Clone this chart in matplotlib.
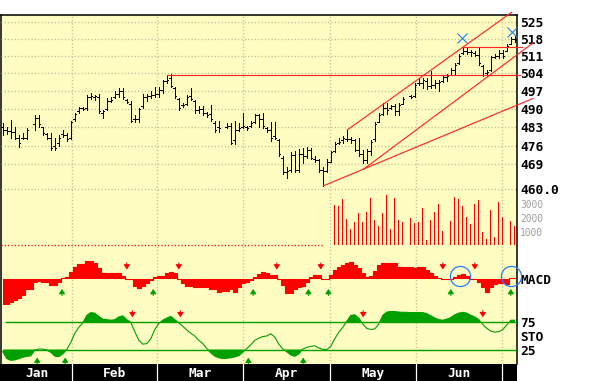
import numpy as np
import matplotlib
matplotlib.use('Agg')
import matplotlib.pyplot as plt
from matplotlib.ticker import NullLocator

nan = np.nan

# ---------------- data (one slot per trading day) ----------------
high = [484.6, 483.0, 485.8, 483.2, 480.1, 480.8, 482.7, nan, 487.7, 487.7,
        483.2, 480.8, 480.8, 478.9, 480.1, 482.0, 480.8, 485.2, 488.4, 490.9,
        490.9, 495.4, 496.1, 495.4, 495.7, 489.7, 494.2, 494.6, 496.8, 498.1,
        498.1, 493.8, 492.9, 487.7, 490.3, 495.8, 495.8, 496.8, 498.7, 498.7,
        501.3, 502.9, 503.9, 498.5, 494.2, 492.3, 495.4, 498.1, 493.5, 491.1,
        491.1, 488.9, 491.6, 485.2, 485.2, nan, 484.6, 484.6, 485.2, 484.6,
        488.4, 483.4, 485.2, 488.0, 488.0, 488.4, 483.2, 484.8, 484.8, 478.5,
        472.0, 468.0, 473.5, 474.1, 474.7, 475.1, 475.3, 475.1, 472.0, 470.8,
        468.0, 470.8, 474.1, 477.3, 478.9, 479.8, 482.0, 479.3, 478.5, 478.9,
        474.3, 474.7, 478.2, 484.8, 488.4, 492.3, 492.3, 491.6, 491.9, 492.3,
        494.8, nan, 495.4, 500.0, 502.0, 502.2, 502.0, 504.9, 501.3, 501.3,
        503.3, 503.6, 506.2, 508.0, 511.6, 514.4, 514.0, 513.3, 512.9, 514.0,
        507.3, 505.3, 510.9, 511.6, 513.3, 513.3, 516.0, 518.8, 519.0]
low = [480.1, 480.5, 479.0, 478.5, 475.6, 478.5, 478.5, nan, 482.0, 483.2,
       480.1, 478.5, 474.5, 474.2, 476.0, 479.4, 477.7, 478.5, 485.2, 488.4,
       489.4, 489.4, 493.8, 493.5, 488.4, 486.4, 489.4, 492.5, 494.2, 494.6,
       493.8, 492.3, 484.8, 484.8, 484.8, 490.3, 493.2, 494.2, 494.6, 494.6,
       496.4, 500.2, 498.5, 494.2, 489.7, 490.9, 491.6, 493.5, 488.6, 488.6,
       487.7, 486.8, 485.2, 481.1, 481.1, nan, 482.7, 476.6, 476.6, 481.5,
       482.7, 482.0, 483.2, 484.5, 483.2, 482.5, 481.1, 477.7, 478.5, 472.0,
       465.3, 464.0, 466.3, 466.1, 466.1, 469.5, 471.3, 470.8, 469.7, 466.3,
       461.1, 466.3, 469.9, 473.5, 476.4, 477.0, 477.7, 477.0, 473.9, 472.2,
       469.5, 469.5, 472.6, 477.7, 484.8, 487.7, 488.1, 490.1, 487.7, 487.7,
       491.9, nan, 494.2, 494.8, 499.3, 498.1, 497.9, 498.1, 498.1, 497.0,
       500.6, 500.8, 503.3, 503.3, 507.6, 511.6, 511.6, 510.8, 510.8, 507.3,
       503.1, 503.1, 505.0, 510.0, 510.0, 510.2, 512.8, 515.7, 516.5]
open_ = [483.0, 482.0, 481.5, 481.0, 479.0, 479.0, 479.0, nan, 484.0, 486.5,
         483.0, 480.5, 479.0, 476.0, 477.0, 480.5, 480.0, 479.0, 486.0, 489.0,
         490.5, 490.5, 494.5, 494.5, 494.5, 488.5, 490.0, 493.0, 494.5, 496.0,
         497.0, 493.5, 492.0, 486.0, 486.0, 491.0, 494.5, 495.0, 495.5, 496.0,
         497.5, 501.0, 502.0, 498.0, 494.0, 491.5, 492.0, 495.0, 493.0, 489.5,
         490.0, 488.5, 488.0, 484.5, 483.0, nan, 483.0, 483.5, 478.0, 482.0,
         483.0, 483.0, 483.5, 485.0, 487.5, 486.0, 482.5, 482.0, 479.5, 478.0,
         471.5, 466.0, 467.0, 472.5, 467.0, 473.0, 472.0, 474.5, 471.0, 470.5,
         467.0, 466.5, 470.0, 474.0, 477.0, 478.0, 478.5, 478.5, 478.0, 474.5,
         473.0, 470.5, 474.0, 478.5, 485.0, 488.0, 490.5, 490.5, 491.0, 489.0,
         492.0, nan, 495.0, 495.0, 500.0, 500.0, 501.0, 499.0, 499.5, 500.0,
         501.0, 502.5, 503.5, 505.5, 508.0, 512.0, 513.0, 512.5, 512.0, 511.5,
         507.0, 504.0, 505.5, 510.5, 511.0, 512.0, 513.0, 516.0, 518.0]
close = [482.0, 481.5, 481.0, 479.0, 477.0, 478.8, 482.0, nan, 486.5, 484.0,
         480.8, 479.0, 475.0, 475.0, 479.0, 480.0, 478.5, 485.0, 488.0, 490.5,
         490.0, 494.5, 495.0, 495.0, 489.0, 489.0, 493.0, 493.5, 496.0, 497.0,
         494.5, 492.5, 485.5, 486.0, 490.0, 494.5, 495.0, 495.5, 496.0, 497.5,
         501.0, 501.5, 499.0, 495.0, 490.5, 491.5, 494.5, 494.0, 489.5, 490.0,
         488.5, 487.5, 486.0, 482.0, 482.5, nan, 483.5, 477.0, 482.0, 482.5,
         483.5, 482.8, 484.5, 487.5, 486.0, 483.5, 482.0, 479.0, 478.8, 473.0,
         466.0, 466.5, 472.5, 467.0, 473.0, 472.0, 474.5, 471.5, 470.5, 467.0,
         466.5, 470.0, 473.5, 476.5, 477.5, 479.0, 478.5, 478.0, 474.5, 473.0,
         470.5, 474.0, 477.5, 484.0, 487.5, 490.5, 489.5, 491.0, 489.0, 491.5,
         494.0, nan, 494.5, 499.5, 500.0, 501.5, 499.0, 499.5, 500.0, 500.5,
         502.5, 503.0, 505.5, 507.5, 511.0, 513.0, 512.5, 512.5, 511.5, 508.0,
         503.5, 504.5, 510.5, 511.0, 512.0, 511.0, 515.0, 518.0, 517.5]

volume_start = 80
volume = [60, 60, 60, 2936, 2864, 3370, 1926, 1204, 1709, 2359,
          1709, 2431, 3442, 1853, 1420, 2359, 3640, 1204, 3442, 1853,
          1709, 50, 1998, 1637, 1709, 2720, 409, 1853, 2431, 3009,
          1059, 50, 1781, 3514, 3370, 2864, 2070, 1565, 3009, 3298,
          987, 481, 2576, 626, 3153, 2070, 50, 1781, 1420]

macd = [-2.53, -2.53, -2.27, -2.10, -1.93, -1.60, -1.03, -1.03, -0.33, -0.17,
        -0.33, -0.33, -0.60, -0.63, -0.33, 0.13, 0.17, 0.67, 1.17, 1.47,
        1.47, 1.80, 1.80, 1.57, 1.07, 0.63, 0.63, 0.63, 0.63, 0.63,
        0.30, -0.03, -0.03, -0.70, -0.93, -0.70, -0.37, -0.10, 0.23, 0.33,
        0.33, 0.57, 0.70, 0.57, -0.03, -0.43, -0.70, -0.70, -0.77, -0.77,
        -0.83, -0.83, -1.03, -1.03, -1.27, -1.17, -1.17, -1.03, -1.27, -0.77,
        -0.37, -0.27, -0.10, 0.23, 0.47, 0.73, 0.57, 0.40, 0.40, 0.00,
        -0.60, -1.43, -1.43, -1.03, -0.83, -0.70, -0.33, 0.23, 0.40, 0.40,
        0.00, 0.00, 0.40, 0.90, 1.23, 1.40, 1.57, 1.70, 1.40, 1.07,
        0.63, 0.17, 0.33, 0.83, 1.40, 1.57, 1.57, 1.63, 1.63, 1.23,
        1.23, 1.17, 1.17, 1.07, 1.17, 1.17, 0.90, 0.63, 0.30, 0.07,
        0.00, 0.00, 0.00, 0.23, 0.40, 0.50, 0.30, 0.00, 0.00, -0.33,
        -0.77, -1.27, -0.83, -0.50, -0.37, -0.43, -0.50, 0.07, 0.10]
macd_sell = [31, 44, 68.5, 79.5, 110, 118]
macd_buy = [14.8, 37.6, 62.6, 76.4, 81.4, 112, 127]

sto = [21, 8.3, 5.3, 6, 8.3, 11, 12.5, 13.5, 24, 26,
       26, 24, 20, 13, 12, 17, 25, 38, 55, 66,
       74, 88, 93, 92, 86, 81, 80, 79, 80, 85,
       87, 80, 75, 58, 42, 35, 36, 45, 62, 73,
       79, 83, 86, 80, 74, 68, 61, 55, 50, 42,
       36, 27, 19, 13, 10, 8.5, 9, 10, 11.5, 14,
       20, 27, 34, 42, 46, 49, 50, 54, 48, 35,
       26, 21, 15, 12.7, 17, 26, 29, 31, 32, 28,
       25.5, 25, 31, 45, 57, 66, 77, 88, 89, 83,
       72, 64, 62, 63, 72, 88, 94, 95, 95, 94,
       93.5, 93.5, 93, 93, 93, 93, 91, 87, 83, 80,
       79, 81, 84, 89, 92, 93.5, 92, 88, 85, 80,
       71, 64, 59, 57, 58, 62, 70, 79, 79]
sto_sell = [32.4, 44.4, 90.1, 120]
sto_buy = [8.6, 15.6, 61.4, 75.1]

price_ticks = [525, 518, 511, 504, 497, 490, 483, 476, 469, 460]
price_labels = ['525', '518', '511', '504', '497', '490', '483', '476', '469', '460.0']
vol_ticks = [1000, 2000, 3000]
months = ['Jan', 'Feb', 'Mar', 'Apr', 'May', 'Jun']
month_bounds = [17.3, 38.55, 60.05, 81.8, 103.3, 124.8]

# drawn studies: (day, price) endpoints
trend_upper = ([86.2, 127.2], [482.0, 528.9])
trend_mid = ([90.1, 132.6], [467.1, 516.3])
trend_low = ([80.2, 132.6], [461.1, 494.1])
resist_1 = ([41.0, 129.3], [503.3, 503.3])
resist_2 = ([114.8, 129.7], [514.5, 514.5])
x_marks = ([114.9, 127.2], [518.3, 520.8])
circles = ([114.4, 127.1], [0.27, 0.32])

# ---------------- styling ----------------
W, H = 595, 381
BG = '#FFFDC2'
GRID = '#BDBC98'
RED = '#FF0000'
GREEN = '#00A000'
BLUE = '#2080FF'
plt.rcParams['font.family'] = ['DejaVu Sans Mono']

fig = plt.figure(figsize=(W / 100, H / 100), dpi=100)
fig.patch.set_facecolor('white')


def ax_px(x0, y0, x1, y1, **kw):
    return fig.add_axes([x0 / W, 1 - y1 / H, (x1 - x0) / W, (y1 - y0) / H], **kw)


def slot(xp):
    return (xp - 2.8) / 4.0


XL = (slot(1), slot(517))
days = np.arange(len(high))


def clean(ax):
    ax.set_xlim(*XL)
    ax.patch.set_alpha(0)
    for s in ax.spines.values():
        s.set_visible(False)
    ax.set_xticks([])
    ax.tick_params(axis='y', length=0, pad=2.2, right=True, left=False,
                   labelright=True, labelleft=False)


# background frame
bg = ax_px(1, 15, 517, 364)
bg.set_facecolor(BG)
bg.set_xlim(*XL)
bg.set_ylim(0, 1)
bg.set_xticks([])
bg.set_yticks([])
for side in ['left', 'top', 'right']:
    bg.spines[side].set_linewidth(1.1)
    bg.spines[side].set_color('black')
bg.spines['bottom'].set_visible(False)
for b in month_bounds:
    bg.axvline(b, color=GRID, lw=1.0, ls=(0, (0.8, 1.6)))

# price panel
ap = ax_px(1, 15, 517, 195)
clean(ap)
ap.set_yscale('log')
ap.set_ylim(457.74, 527.79)
ap.set_yticks(price_ticks)
ap.set_yticklabels(price_labels, fontsize=9.3, fontweight='bold')
ap.yaxis.set_minor_locator(NullLocator())
for t in price_ticks:
    ap.axhline(t, color=GRID, lw=1.0, ls=(0, (0.8, 1.6)))

hi = np.array(high); lo = np.array(low); op = np.array(open_); cl = np.array(close)
ok = ~np.isnan(hi)
ap.vlines(days[ok], lo[ok], hi[ok], color='black', lw=0.72, antialiased=False)
ap.hlines(op[ok], days[ok] - 0.42, days[ok], color='black', lw=0.72, antialiased=False)
ap.hlines(cl[ok], days[ok], days[ok] + 0.42, color='black', lw=0.72, antialiased=False)

for seg in [trend_upper, trend_mid, trend_low, resist_1, resist_2]:
    ap.plot(seg[0], seg[1], color='#FF2828', lw=0.85, clip_on=False, zorder=3)
ap.plot(x_marks[0], x_marks[1], 'x', color=BLUE, ms=7.5, mew=0.8, clip_on=False, zorder=4)

# volume panel
av = ax_px(1, 190, 517, 250)
clean(av)
av.set_ylim(-325, 4007)
av.set_yticks(vol_ticks)
av.set_yticklabels([str(v) for v in vol_ticks], fontsize=6.9, color='#A0A0A0')
vdays = np.arange(volume_start, volume_start + len(volume))
av.bar(vdays, volume, width=0.3, color=RED, linewidth=0, antialiased=False)
av.plot([XL[0], volume_start], [0, 0], color=RED, lw=1.0, ls=(0, (0.8, 1.6)))

# MACD panel
am = ax_px(1, 250, 517, 305)
clean(am)
am.set_ylim(-2.6, 2.9)
am.set_yticks([0])
am.set_yticklabels(['MACD'], fontsize=9.3, fontweight='bold')
am.fill_between(days, macd, 0, step='mid', color=RED, lw=0)
am.step(days, macd, where='mid', color=RED, lw=0.8)


def arrow(ax, x, y0, y1, color):
    ax.annotate('', xy=(x, y1), xytext=(x, y0),
                arrowprops=dict(arrowstyle='-|>,head_width=0.3,head_length=0.45',
                                color=color, lw=0.8, shrinkA=0, shrinkB=0,
                                mutation_scale=6),
                annotation_clip=False)


for k in macd_sell:
    arrow(am, k, 1.6, 0.95, RED)
for k in macd_buy:
    arrow(am, k, -1.65, -1.0, GREEN)
am.plot(circles[0], circles[1], 'o', mfc='none', mec=BLUE, ms=14.5, mew=0.9,
        clip_on=False, zorder=5)

# stochastic panel
ast = ax_px(1, 305, 517, 364)
clean(ast)
ast.set_ylim(-1.5, 107)
ast.set_yticks([75, 50, 25])
ast.set_yticklabels(['75', 'STO', '25'], fontsize=9.3, fontweight='bold')
sv = np.array(sto)
ast.fill_between(days, sv, 75, where=sv >= 75, interpolate=True, color=GREEN, lw=0)
ast.fill_between(days, sv, 25, where=sv <= 25, interpolate=True, color=GREEN, lw=0)
ast.plot(days, sv, color=GREEN, lw=0.8)
ast.hlines([75, 25], slot(5), XL[1], color=GREEN, lw=1.0)
for k in sto_sell:
    arrow(ast, k, 96.5, 84.5, RED)
for k in sto_buy:
    arrow(ast, k, -0.9, 10.2, GREEN)

# month band
band = ax_px(0, 364, 517, 381)
band.set_facecolor('black')
band.set_xlim(slot(0), slot(517))
band.set_ylim(0, 1)
band.set_xticks([])
band.set_yticks([])
for s in band.spines.values():
    s.set_visible(False)
edges = [XL[0]] + month_bounds
for i, m in enumerate(months):
    band.text((edges[i] + edges[i + 1]) / 2, 0.47, m, color='white', ha='center',
              va='center', fontsize=9.3, fontweight='bold')
for b in month_bounds:
    band.axvline(b, color='white', lw=0.9)

fig.savefig('out.png', dpi=100, facecolor='white')
